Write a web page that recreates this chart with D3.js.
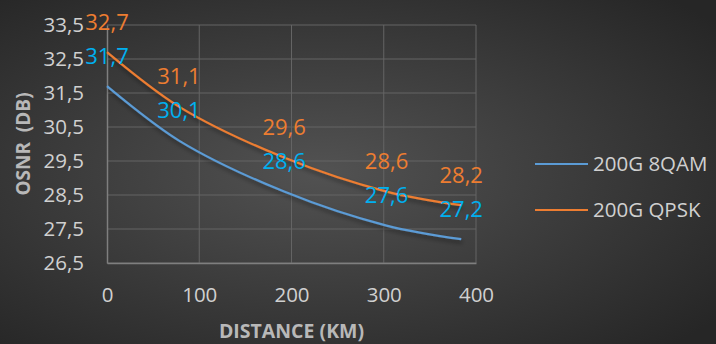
<!DOCTYPE html>
<html>
<head>
<meta charset="utf-8">
<script src="https://cdn.jsdelivr.net/npm/d3@7"></script>
<style>
  html, body { margin: 0; padding: 0; background: #3a3a3a; }
  svg { display: block; }
</style>
</head>
<body>
<svg id="chart" width="716" height="344"></svg>
<script>
// Distance (km) of each measurement
const distances = [0, 78, 192, 303, 384];
// OSNR values (dB) per modulation format
const osnr8qam = [31.7, 30.1, 28.6, 27.6, 27.2];
const osnrQpsk = [32.7, 31.1, 29.6, 28.6, 28.2];
const seriesNames = ["200G 8QAM", "200G QPSK"];
const xTicks = [0, 100, 200, 300, 400];
const yTicks = [26.5, 27.5, 28.5, 29.5, 30.5, 31.5, 32.5, 33.5];

const W = 716, H = 344;
const margin = { left: 107, right: 716 - 476, top: 25, bottom: 344 - 263 };
const svg = d3.select("#chart");
const fmt = v => d3.format(".1f")(v).replace(".", ",");
const font = "'Open Sans', 'Noto Sans', sans-serif";

// Background: dark radial gradient
const defs = svg.append("defs");
const rg = defs.append("radialGradient").attr("id", "bg")
  .attr("cx", "45%").attr("cy", "50%").attr("r", "70%");
rg.append("stop").attr("offset", "0%").attr("stop-color", "#525252");
rg.append("stop").attr("offset", "100%").attr("stop-color", "#262626");
svg.append("rect").attr("width", W).attr("height", H).attr("fill", "url(#bg)");

// Soft shadow under the lines
const sh = defs.append("filter").attr("id", "shadow")
  .attr("x", "-10%").attr("y", "-10%").attr("width", "120%").attr("height", "130%");
sh.append("feDropShadow").attr("dx", 1).attr("dy", 3).attr("stdDeviation", 2)
  .attr("flood-color", "#000").attr("flood-opacity", 0.45);

const x = d3.scaleLinear().domain([0, 400]).range([margin.left, W - margin.right]);
const y = d3.scaleLinear().domain([26.5, 33.5]).range([H - margin.bottom, margin.top]);

// Grid
const grid = svg.append("g");
grid.selectAll(".hg").data(yTicks).join("line")
  .attr("x1", x(0)).attr("x2", x(400))
  .attr("y1", d => y(d)).attr("y2", d => y(d))
  .attr("stroke", "#646464").attr("stroke-width", 1);
grid.selectAll(".vg").data(xTicks.slice(1)).join("line")
  .attr("x1", d => x(d)).attr("x2", d => x(d))
  .attr("y1", y(33.5)).attr("y2", y(26.5))
  .attr("stroke", "#646464").attr("stroke-width", 1);

// Axes
const xAxis = svg.append("g").attr("transform", `translate(0,${y(26.5)})`)
  .call(d3.axisBottom(x).tickValues(xTicks).tickSize(0).tickPadding(24).tickFormat(d3.format("d")));
const yAxis = svg.append("g").attr("transform", `translate(${x(0)},0)`)
  .call(d3.axisLeft(y).tickValues(yTicks).tickSize(0).tickPadding(23).tickFormat(fmt));
[xAxis, yAxis].forEach(a => {
  a.select(".domain").attr("stroke", "#7f7f7f").attr("stroke-width", 1.5);
  a.selectAll("text").attr("fill", "#d0d0d0").attr("font-family", font).attr("font-size", 20.5);
});

// Axis titles
svg.append("text").attr("x", x(200)).attr("y", 338)
  .attr("text-anchor", "middle").attr("fill", "#b8b8b8")
  .attr("font-family", font).attr("font-weight", "bold").attr("font-size", 19.5)
  .text("DISTANCE (KM)");
svg.append("text").attr("transform", `translate(30,144) rotate(-90)`)
  .attr("text-anchor", "middle").attr("fill", "#b8b8b8")
  .attr("font-family", font).attr("font-weight", "bold").attr("font-size", 19)
  .style("white-space", "pre")
  .text("OSNR  (DB)");

const series = [
  { name: seriesNames[0], values: osnr8qam, line: "#5b9bd5", label: "#00b0f0" },
  { name: seriesNames[1], values: osnrQpsk, line: "#ed7d31", label: "#ed7d31" }
];

const lineGen = d3.line()
  .x(d => x(d[0])).y(d => y(d[1]))
  .curve(d3.curveCatmullRom.alpha(0.5));

series.forEach(s => {
  const pts = distances.map((d, i) => [d, s.values[i]]);
  svg.append("path").datum(pts)
    .attr("d", lineGen).attr("fill", "none")
    .attr("stroke", s.line).attr("stroke-width", 2.2)
    .attr("filter", "url(#shadow)");
});

// Data labels above each point
series.forEach(s => {
  svg.append("g").selectAll("text")
    .data(distances.map((d, i) => [d, s.values[i]]))
    .join("text")
    .attr("x", d => x(d[0])).attr("y", d => y(d[1]) - 30)
    .attr("dy", "0.35em").attr("text-anchor", "middle")
    .attr("fill", s.label).attr("font-family", font).attr("font-size", 22)
    .text(d => fmt(d[1]));
});

// Legend
const legend = svg.append("g");
series.forEach((s, i) => {
  const ly = 164 + i * 46;
  legend.append("line").attr("x1", 535).attr("x2", 588).attr("y1", ly).attr("y2", ly)
    .attr("stroke", s.line).attr("stroke-width", 2.2);
  legend.append("text").attr("x", 593).attr("y", ly).attr("dy", "0.35em")
    .attr("fill", "#d0d0d0").attr("font-family", font).attr("font-size", 20.5)
    .text(s.name);
});
</script>
</body>
</html>
